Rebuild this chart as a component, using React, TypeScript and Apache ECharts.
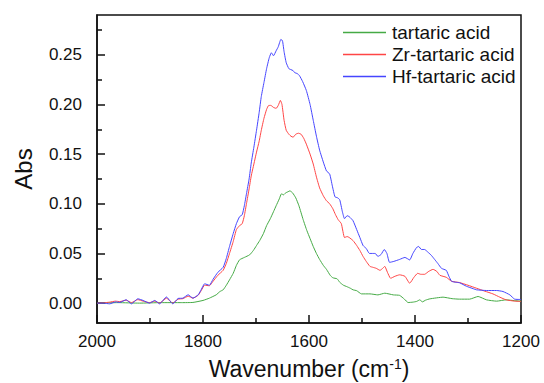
import React, { useEffect, useRef } from "react";
import * as echarts from "echarts";

const seriesNames = ["tartaric acid", "Zr-tartaric acid", "Hf-tartaric acid"];
const seriesColors = ["#45aa45", "#ff4545", "#4545ff"];

const yMajorTicks = [0, 0.05, 0.1, 0.15, 0.2, 0.25];
const yMinorTicks = [0.025, 0.075, 0.125, 0.175, 0.225, 0.275];

const wnTartaric = [
  2000, 1960, 1920, 1880, 1840, 1819, 1800, 1788, 1775, 1768, 1762, 1756, 1750, 1743, 1737, 1731,
  1722, 1712, 1705, 1699, 1693, 1686, 1680, 1673, 1667, 1662, 1656, 1652, 1648, 1644, 1640, 1636,
  1631, 1625, 1619, 1611, 1604, 1598, 1592, 1586, 1580, 1573, 1567, 1560, 1555, 1547, 1542, 1535,
  1529, 1522, 1517, 1510, 1501, 1485, 1470, 1457, 1441, 1429, 1420, 1413, 1404, 1397, 1391, 1386,
  1380, 1372, 1347, 1330, 1316, 1297, 1281, 1265, 1246, 1228, 1212, 1200,
];
const absTartaric = [
  0.0, 0.0005, 0.0, 0.0005, 0.0005, 0.0007, 0.0027, 0.005, 0.0084, 0.0117, 0.0134, 0.018, 0.0234, 0.03, 0.038, 0.0436,
  0.046, 0.0486, 0.053, 0.058, 0.063, 0.07, 0.078, 0.085, 0.092, 0.098, 0.105, 0.11, 0.109, 0.111, 0.112, 0.113,
  0.111, 0.106, 0.098, 0.084, 0.073, 0.065, 0.057, 0.05, 0.044, 0.038, 0.034, 0.028, 0.0255, 0.0245, 0.021, 0.018,
  0.0167, 0.015, 0.0134, 0.0125, 0.0093, 0.0093, 0.0083, 0.01, 0.0083, 0.0078, 0.004, 0.0006, 0.001, 0.0017, 0.0033, 0.0013,
  0.003, 0.0043, 0.006, 0.0045, 0.004, 0.004, 0.0067, 0.0033, 0.002, 0.0033, 0.0025, 0.002,
];

const wnZr = [
  2000, 1988, 1976, 1965, 1957, 1945, 1935, 1923, 1913, 1901, 1891, 1882, 1869, 1857, 1847, 1838,
  1828, 1819, 1809, 1803, 1797, 1788, 1781, 1772, 1762, 1756, 1750, 1743, 1737, 1731, 1726, 1722,
  1718, 1713, 1709, 1704, 1699, 1694, 1690, 1685, 1680, 1676, 1672, 1667, 1662, 1658, 1654, 1651,
  1647, 1643, 1638, 1634, 1630, 1625, 1620, 1615, 1610, 1605, 1598, 1592, 1586, 1580, 1573, 1567,
  1561, 1555, 1550, 1545, 1539, 1533, 1528, 1524, 1517, 1510, 1504, 1498, 1492, 1485, 1479, 1473,
  1466, 1461, 1457, 1452, 1446, 1438, 1429, 1419, 1410, 1402, 1395, 1389, 1382, 1374, 1366, 1359,
  1353, 1341, 1331, 1316, 1300, 1284, 1268, 1253, 1240, 1228, 1212, 1200,
];
const absZr = [
  0.0, 0.0003, 0.001, 0.002, 0.0015, 0.003, 0.0005, 0.0035, 0.002, 0.0005, 0.002, 0.0, 0.005, 0.0, 0.004, 0.0045,
  0.007, 0.005, 0.008, 0.013, 0.018, 0.0175, 0.022, 0.028, 0.033, 0.04, 0.05, 0.062, 0.074, 0.078, 0.08, 0.088,
  0.1, 0.115, 0.128, 0.14, 0.152, 0.163, 0.174, 0.186, 0.195, 0.199, 0.199, 0.197, 0.196, 0.199, 0.204, 0.2,
  0.184, 0.174, 0.17, 0.168, 0.167, 0.17, 0.171, 0.17, 0.166, 0.16, 0.15, 0.14, 0.127, 0.116, 0.108, 0.103,
  0.1, 0.095, 0.089, 0.084, 0.08, 0.066, 0.067, 0.066, 0.063, 0.058, 0.053, 0.047, 0.042, 0.037, 0.036, 0.035,
  0.033, 0.035, 0.037, 0.031, 0.025, 0.027, 0.0285, 0.027, 0.02, 0.026, 0.03, 0.029, 0.029, 0.032, 0.034, 0.032,
  0.028, 0.026, 0.022, 0.0207, 0.018, 0.015, 0.012, 0.0093, 0.006, 0.0033, 0.002, 0.0017,
];

const wnHf = [
  2000, 1988, 1976, 1965, 1957, 1945, 1935, 1923, 1913, 1901, 1891, 1882, 1869, 1857, 1847, 1838,
  1828, 1819, 1809, 1803, 1797, 1788, 1781, 1772, 1762, 1756, 1750, 1743, 1737, 1731, 1726, 1722,
  1718, 1713, 1709, 1704, 1699, 1694, 1690, 1685, 1680, 1675, 1671, 1667, 1662, 1658, 1653, 1650,
  1647, 1643, 1638, 1634, 1630, 1627, 1622, 1618, 1612, 1605, 1598, 1592, 1586, 1580, 1573, 1567,
  1561, 1556, 1551, 1546, 1542, 1537, 1533, 1528, 1524, 1517, 1510, 1504, 1498, 1492, 1486, 1480,
  1475, 1470, 1464, 1458, 1453, 1448, 1440, 1429, 1419, 1410, 1404, 1397, 1393, 1388, 1382, 1375,
  1369, 1363, 1357, 1350, 1341, 1336, 1331, 1323, 1316, 1303, 1290, 1284, 1265, 1246, 1234, 1221,
  1212, 1200,
];
const absHf = [
  0.0, 0.0, -0.0007, 0.0012, 0.0007, 0.0034, -0.0007, 0.0044, 0.0027, 0.0, 0.0027, -0.0007, 0.0062, -0.0007, 0.0047, 0.005,
  0.0084, 0.005, 0.0084, 0.014, 0.0195, 0.018, 0.024, 0.031, 0.036, 0.045, 0.057, 0.07, 0.08, 0.087, 0.089, 0.098,
  0.11, 0.125, 0.141, 0.157, 0.174, 0.192, 0.208, 0.222, 0.236, 0.247, 0.252, 0.249, 0.254, 0.258, 0.2655, 0.264,
  0.253, 0.242, 0.236, 0.235, 0.234, 0.232, 0.231, 0.229, 0.223, 0.214, 0.2, 0.184, 0.168, 0.154, 0.142, 0.133,
  0.13, 0.118, 0.107, 0.106, 0.104, 0.092, 0.085, 0.088, 0.087, 0.083, 0.074, 0.066, 0.058, 0.055, 0.05, 0.05,
  0.05, 0.047, 0.049, 0.054, 0.05, 0.041, 0.042, 0.044, 0.046, 0.0435, 0.05, 0.056, 0.057, 0.054, 0.054, 0.051,
  0.048, 0.044, 0.04, 0.035, 0.033, 0.027, 0.022, 0.021, 0.0205, 0.017, 0.0145, 0.0134, 0.0127, 0.0127, 0.0117, 0.0083,
  0.004, 0.0037,
];

const FONT = "'Liberation Sans', Arial, sans-serif";
const AXIS_COLOR = "#111111";

function pairs(xs: number[], ys: number[]) {
  return xs.map((x, i) => [x, ys[i]]);
}

export default function App() {
  const ref = useRef<HTMLDivElement>(null);
  useEffect(() => {
    if (!ref.current) return;
    const chart = echarts.init(ref.current, null, { renderer: "svg" });
    const dataSets = [
      pairs(wnTartaric, absTartaric),
      pairs(wnZr, absZr),
      pairs(wnHf, absHf),
    ];
    chart.setOption({
      animation: false,
      backgroundColor: "#ffffff",
      textStyle: { fontFamily: FONT },
      grid: {
        left: 97,
        right: 23,
        top: 15,
        bottom: 60,
        outerBoundsMode: "none",
        containLabel: false,
        show: true,
        borderColor: AXIS_COLOR,
        borderWidth: 1.5,
        backgroundColor: "transparent",
      },
      legend: {
        orient: "vertical",
        left: 343,
        top: 23,
        padding: 0,
        icon: "rect",
        itemWidth: 43,
        itemHeight: 1.3,
        itemGap: 3,
        textStyle: { fontSize: 19, color: "#111", fontFamily: FONT, padding: [0, 0, 0, 1] },
        data: seriesNames,
      },
      xAxis: {
        type: "value",
        min: 1200,
        max: 2000,
        interval: 200,
        inverse: true,
        name: "Wavenumber (cm{sup|-1})",
        nameLocation: "middle",
        nameGap: 34,
        nameTextStyle: {
          fontSize: 23,
          color: "#111",
          fontFamily: FONT,
          rich: {
            sup: { fontSize: 14, verticalAlign: "top", padding: [0, 0, 10, 0], color: "#111", fontFamily: FONT },
          },
        },
        axisLine: { show: true, onZero: false, lineStyle: { color: AXIS_COLOR, width: 1.5 } },
        axisTick: { show: true, inside: true, length: 8, lineStyle: { color: AXIS_COLOR, width: 1.5 } },
        minorTick: { show: true, splitNumber: 2, length: 5, lineStyle: { color: AXIS_COLOR, width: 1.5 } },
        axisLabel: { fontSize: 17, color: "#111", margin: 10, fontFamily: FONT, formatter: (v: number) => String(v) },
        splitLine: { show: false },
      },
      yAxis: [
        {
          type: "value",
          min: -0.02,
          max: 0.29,
          name: "Abs",
          nameLocation: "middle",
          nameGap: 62,
          nameTextStyle: { fontSize: 24, color: "#111", fontFamily: FONT },
          axisLine: { show: true, onZero: false, lineStyle: { color: AXIS_COLOR, width: 1.5 } },
          axisTick: { show: true, inside: true, length: 8, customValues: yMajorTicks, lineStyle: { color: AXIS_COLOR, width: 1.5 } },
          axisLabel: {
            fontSize: 17,
            color: "#111",
            margin: 15,
            fontFamily: FONT,
            customValues: yMajorTicks,
            formatter: (v: number) => v.toFixed(2),
          },
          splitLine: { show: false },
        },
        {
          type: "value",
          min: -0.02,
          max: 0.29,
          position: "left",
          axisLine: { show: false },
          axisTick: { show: true, inside: true, length: 5, customValues: yMinorTicks, lineStyle: { color: AXIS_COLOR, width: 1.5 } },
          axisLabel: { show: false },
          splitLine: { show: false },
        },
      ],
      series: seriesNames.map((name, i) => ({
        name,
        type: "line",
        data: dataSets[i],
        symbol: "none",
        smooth: 0.15,
        yAxisIndex: 0,
        z: i + 2,
        lineStyle: { color: seriesColors[i], width: 1 },
        itemStyle: { color: seriesColors[i] },
      })),
    });
    return () => chart.dispose();
  }, []);
  return <div ref={ref} style={{ width: 544, height: 383, position: "absolute", left: 0, top: 0 }} />;
}
